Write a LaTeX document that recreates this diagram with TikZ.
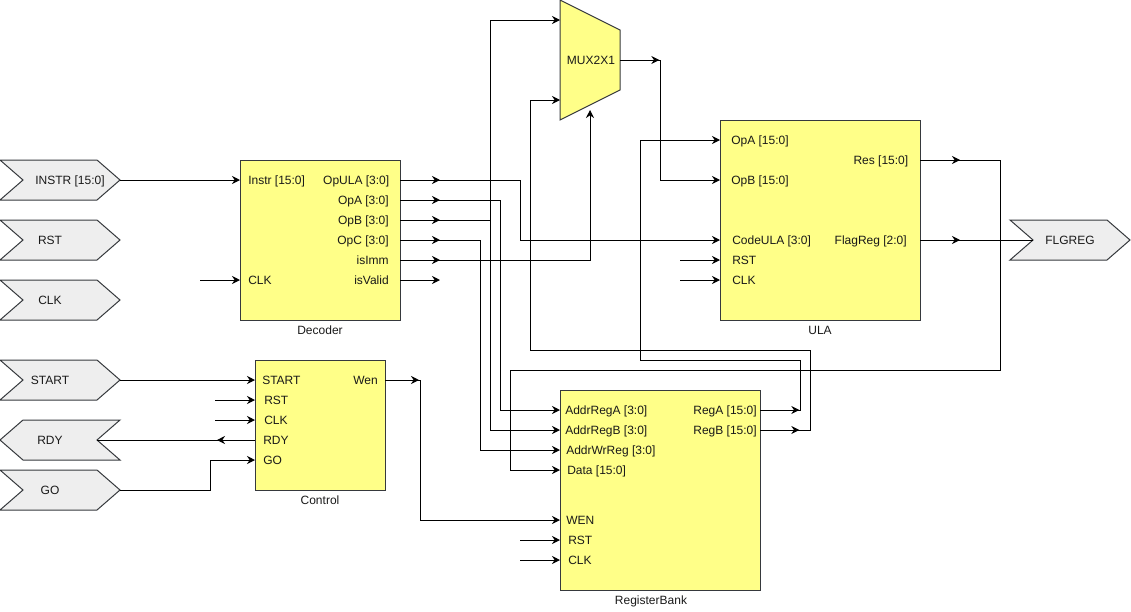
\documentclass[tikz,border=0pt]{standalone}
\usepackage{fontspec}
\setmainfont{Liberation Sans}
\usetikzlibrary{arrows.meta,decorations.markings,shapes.geometric,shapes.symbols}
\definecolor{blockfill}{HTML}{FFFF88}
\definecolor{portfill}{HTML}{EEEEEE}
\definecolor{edgeline}{HTML}{36393D}
\tikzset{
  block/.style={rectangle, draw=edgeline, fill=blockfill, line width=0.75pt, outer sep=0pt},
  port/.style={signal, draw=edgeline, fill=portfill, line width=0.75pt, outer sep=0pt, inner sep=1pt, minimum width=90pt, minimum height=30pt, signal pointer angle=82},
  txt/.style={font=\fontsize{9}{11}\selectfont, inner sep=0pt, text height=8.5pt, text depth=1.9pt, text=black!90},
  lblw/.style={txt, anchor=west},
  lble/.style={txt, anchor=east},
  wire/.style={line width=0.75pt, black},
  towire/.style={wire, -{Stealth[length=6pt,width=6pt]}},
  tipat/.style={postaction={decorate, decoration={markings, mark=at position #1 with {\arrow{Stealth[length=6pt,width=6pt]}}}}}
}
\begin{document}
\begin{tikzpicture}[x=0.75pt, y=-0.75pt]
    \useasboundingbox (0, 0) rectangle (1131, 611);

    % blocks
    \node[block, minimum width=120pt, minimum height=120pt] (Dec) at (320, 240) {};
    \node[block, minimum width=97.5pt, minimum height=97.5pt] (Ctl) at (320, 425) {};
    \node[block, minimum width=150pt, minimum height=150pt] (Ula) at (820, 220) {};
    \node[block, minimum width=150pt, minimum height=150pt] (Reg) at (660, 490) {};
    \node[block, trapezium, trapezium angle=63.43, trapezium stretches=true, rotate=-90, inner sep=1pt, minimum width=90pt, minimum height=45pt] (Mux) at (590, 60) {};

    % ports
    \node[port, signal to=east, signal from=west] (Instr) at (60, 180) {};
    \node[port, signal to=east, signal from=west] (Rst) at (60, 240) {};
    \node[port, signal to=east, signal from=west] (Clk) at (60, 300) {};
    \node[port, signal to=east, signal from=west] (Start) at (60, 380) {};
    \node[port, signal to=west, signal from=east] (Rdy) at (60, 440) {};
    \node[port, signal to=east, signal from=west] (Go) at (60, 490) {};
    \node[port, signal to=east, signal from=west] (Flg) at (1070, 240) {};

    % values
    \node[txt] (tInstr) at (70, 180) {INSTR [15:0]};
    \node[txt] (tRst) at (50, 240) {RST};
    \node[txt] (tClk) at (50, 300) {CLK};
    \node[txt] (tStart) at (50, 380) {START};
    \node[txt] (tRdy) at (50, 440) {RDY};
    \node[txt] (tGo) at (50, 490) {GO};
    \node[txt] (tFlg) at (1070, 240) {FLGREG};
    \node[txt] (tMux) at (591, 60) {MUX2X1};

    \node[txt] (tDec) at (320, 330) {Decoder};
    \node[txt] (tCtl) at (320, 500) {Control};
    \node[txt] (tUla) at (820, 330) {ULA};
    \node[txt] (tReg) at (651, 600) {RegisterBank};

    \node[lblw] (dInstr) at (248, 180) {Instr [15:0]};
    \node[lblw] (dClk) at (248, 280) {CLK};
    \node[lble] (dOpUla) at (389.5, 180) {OpULA [3:0]};
    \node[lble] (dOpA) at (389, 200) {OpA [3:0]};
    \node[lble] (dOpB) at (389, 220) {OpB [3:0]};
    \node[lble] (dOpC) at (389, 240) {OpC [3:0]};
    \node[lble] (dImm) at (389, 260) {isImm};
    \node[lble] (dValid) at (389, 280) {isValid};

    \node[lblw] (cStart) at (262, 380) {START};
    \node[lblw] (cRst) at (264, 400) {RST};
    \node[lblw] (cClk) at (264, 420) {CLK};
    \node[lblw] (cRdy) at (263, 440) {RDY};
    \node[lblw] (cGo) at (263, 460) {GO};
    \node[lble] (cWen) at (378, 380) {Wen};

    \node[lblw] (uOpA) at (731, 140) {OpA [15:0]};
    \node[lblw] (uOpB) at (731, 180) {OpB [15:0]};
    \node[lblw] (uCode) at (732, 240) {CodeULA [3:0]};
    \node[lblw] (uRst) at (732, 260) {RST};
    \node[lblw] (uClk) at (732, 280) {CLK};
    \node[lble] (uRes) at (908.5, 160) {Res [15:0]};
    \node[lble] (uFlag) at (907, 240) {FlagReg [2:0]};

    \node[lblw] (rAddrA) at (565, 410) {AddrRegA [3:0]};
    \node[lblw] (rAddrB) at (565, 430) {AddrRegB [3:0]};
    \node[lblw] (rAddrW) at (566, 450) {AddrWrReg [3:0]};
    \node[lblw] (rData) at (567, 470) {Data [15:0]};
    \node[lblw] (rWen) at (566, 520) {WEN};
    \node[lblw] (rRst) at (568, 540) {RST};
    \node[lblw] (rClk) at (568, 560) {CLK};
    \node[lble] (rRegA) at (757, 410) {RegA [15:0]};
    \node[lble] (rRegB) at (757, 430) {RegB [15:0]};

    % free ends
    \coordinate (fDecClk) at (200, 280);
    \coordinate (fCtlRst) at (215, 400);
    \coordinate (fCtlClk) at (215, 420);
    \coordinate (fUlaRst) at (680, 260);
    \coordinate (fUlaClk) at (680, 280);
    \coordinate (fRegRst) at (520, 540);
    \coordinate (fRegClk) at (520, 560);
    \coordinate (mIn0) at (560, 20);
    \coordinate (mIn1) at (560, 100);
    \coordinate (mSel) at (590, 110);

    % wires
    \draw[towire] (Instr.east) -- (dInstr -| Dec.west);
    \draw[towire] (fDecClk) -- (dClk -| Dec.west);
    \draw[towire] (Start.east) -- (cStart -| Ctl.west);
    \draw[towire] (fCtlRst) -- (cRst -| Ctl.west);
    \draw[towire] (fCtlClk) -- (cClk -| Ctl.west);
    \draw[wire, tipat=28.5pt] (cRdy -| Ctl.west) -- (Rdy.east);
    \draw[towire] (Go.east) -- (210, 490) -- (210, 460) -- (cGo -| Ctl.west);

    \draw[towire, tipat=30pt] (dOpUla -| Dec.east) -- (520, 180) -- (520, 240) -- (uCode -| Ula.west);
    \draw[towire, tipat=30pt] (dOpA -| Dec.east) -- (500, 200) -- (500, 410) -- (rAddrA -| Reg.west);
    \draw[towire, tipat=30pt] (dOpB -| Dec.east) -- (490, 220) -- (490, 430) -- (rAddrB -| Reg.west);
    \draw[towire] (490, 220) -- (490, 20) -- (mIn0);
    \draw[towire, tipat=30pt] (dOpC -| Dec.east) -- (480, 240) -- (480, 450) -- (rAddrW -| Reg.west);
    \draw[towire, tipat=30pt] (dImm -| Dec.east) -- (590, 260) -- (mSel);
    \draw[towire] (dValid -| Dec.east) -- ++(40, 0);

    \draw[towire, tipat=29.5pt] (Mux.north) -- (660, 60) -- (660, 180) -- (uOpB -| Ula.west);
    \draw[towire] (fUlaRst) -- (uRst -| Ula.west);
    \draw[towire] (fUlaClk) -- (uClk -| Ula.west);
    \draw[wire, tipat=30pt] (uFlag -| Ula.east) -- (Flg.west);
    \draw[towire, tipat=30pt] (uRes -| Ula.east) -- (1000, 160) -- (1000, 370) -- (510, 370) -- (510, 470) -- (rData -| Reg.west);

    \draw[towire, tipat=25.5pt] (cWen -| Ctl.east) -- (420, 380) -- (420, 520) -- (rWen -| Reg.west);
    \draw[towire] (fRegRst) -- (rRst -| Reg.west);
    \draw[towire] (fRegClk) -- (rClk -| Reg.west);
    \draw[towire, tipat=29.5pt] (rRegA -| Reg.east) -- (800, 410) -- (800, 360) -- (640, 360) -- (640, 140) -- (uOpA -| Ula.west);
    \draw[towire, tipat=29.5pt] (rRegB -| Reg.east) -- (810, 430) -- (810, 350) -- (530, 350) -- (530, 100) -- (mIn1);

\end{tikzpicture}
\end{document}
